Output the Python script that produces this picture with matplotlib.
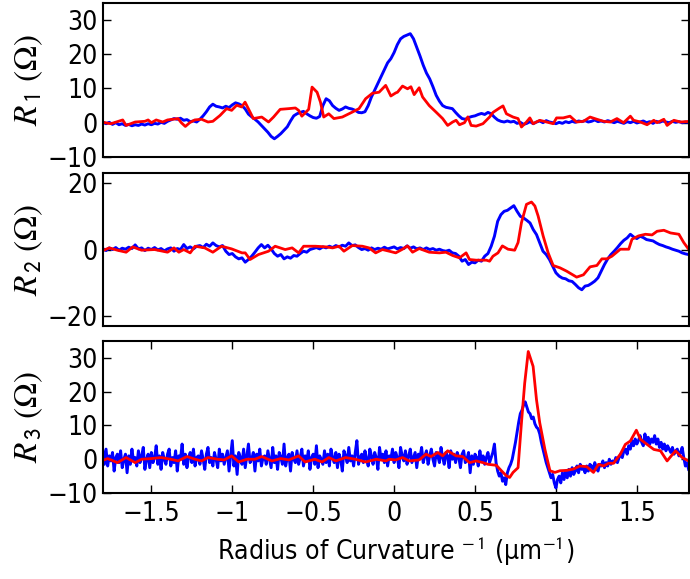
import numpy as np
import matplotlib
matplotlib.use("Agg")
import matplotlib.pyplot as plt

# ---------------- data ----------------
x_start = -1.80
step_coarse = 0.02
step_fine = 0.01

# Panel 1 (R1) blue, sampled every 0.02 from -1.80
r1_blue = [
    0.2, -0.3, 0.1, -0.5, 0.0, -0.6, -0.3, -0.8, -0.5, -0.9,
    -0.6, -0.8, -0.4, -0.7, -0.3, -0.6, -0.2, -0.4, 0.1, -0.2,
    0.4, 0.8, 1.2, 1.0, 1.3, 0.7, 0.9, 0.3, 0.5, 0.2,
    1.0, 2.0, 3.2, 4.6, 5.4, 4.8, 4.6, 4.3, 4.8, 4.4,
    5.2, 5.8, 5.5, 5.0, 4.0, 2.5, 1.7, 1.0, 0.2, -0.8,
    -1.8, -2.8, -4.0, -4.7, -4.0, -3.2, -2.2, -1.2, 0.5, 2.0,
    2.6, 3.0, 3.3, 2.6, 2.0, 1.5, 1.3, 1.8, 5.0, 7.0,
    6.4, 5.0, 4.2, 3.6, 4.0, 4.6, 4.2, 4.0, 3.6, 3.0,
    2.9, 3.2, 5.0, 7.5, 9.5, 11.5, 13.5, 15.5, 17.5, 18.7,
    20.5, 22.8, 24.5, 25.2, 25.6, 26.0, 24.5, 22.0, 19.5, 16.8,
    14.5, 12.8, 10.5, 8.0, 6.3, 5.0, 4.5, 4.3, 4.1, 3.0,
    2.0, 1.2, 1.0, 1.5, 1.8, 2.0, 2.4, 2.7, 2.4, 3.0,
    2.6, 1.6, 0.8, 0.4, 0.2, 0.5, 0.2, 0.4, -0.2, 0.1,
    -0.5, -0.2, 0.3, -0.3, 0.2, 0.5, 0.0, 0.6, 0.2, 0.0,
    -0.3, 0.1, -0.2, 0.3, 0.0, 0.4, 0.1, 0.5, 0.3, 0.6,
    0.2, 0.4, 0.8, 0.3, 0.5, 0.2, 0.6, 0.3, 0.0, 0.4,
    0.1, -0.2, 0.3, 0.0, 0.4, -0.1, 0.2, 0.5, 0.0, 0.3,
    -0.2, 0.4, 0.1, 0.5, 0.2, 0.0, 0.4, 0.1, 0.3, 0.0,
    0.2, 0.1,
]

# Panel 1 red (non-uniform sample positions)
r1_red_x = [
    -1.81, -1.75, -1.677, -1.656, -1.60, -1.54, -1.52, -1.50, -1.47, -1.43,
    -1.40, -1.335, -1.315, -1.29, -1.263, -1.232, -1.19, -1.15, -1.12, -1.076,
    -1.035, -1.004, -0.973, -0.942, -0.921, -0.89, -0.87, -0.818, -0.776, -0.745,
    -0.704, -0.652, -0.61, -0.59, -0.57, -0.528, -0.507, -0.476, -0.455, -0.435,
    -0.404, -0.372, -0.32, -0.258, -0.217, -0.176, -0.134, -0.093, -0.052, -0.02,
    0.01, 0.021, 0.052, 0.083, 0.104, 0.124, 0.155, 0.176, 0.217, 0.259,
    0.30, 0.331, 0.362, 0.383, 0.404, 0.435, 0.456, 0.476, 0.507, 0.549,
    0.59, 0.611, 0.652, 0.673, 0.694, 0.735, 0.766, 0.787, 0.818, 0.839,
    0.859, 0.90, 0.942, 0.983, 1.004, 1.045, 1.087, 1.108, 1.128, 1.17,
    1.211, 1.253, 1.294, 1.336, 1.377, 1.418, 1.46, 1.48, 1.522, 1.563,
    1.605, 1.625, 1.667, 1.687, 1.729, 1.77, 1.832,
]
r1_red = [
    0.2, -0.3, 0.8, -0.8, 0.2, 0.4, 0.8, 0.0, 0.8, 0.2,
    0.8, 1.2, 0.0, -1.1, 0.0, 0.8, 1.0, 0.2, 0.4, 2.1,
    4.1, 3.6, 5.1, 4.6, 6.0, 3.1, 1.2, 1.65, 0.2, 1.65,
    3.9, 4.1, 4.3, 3.6, 1.9, 3.9, 10.4, 8.9, 6.0, 1.65,
    2.6, 1.2, 1.65, 3.1, 4.1, 7.0, 8.6, 8.9, 10.9, 7.8,
    8.7, 8.9, 10.7, 9.9, 10.5, 8.2, 10.2, 7.5, 5.0, 3.1,
    1.2, -0.8, 0.2, 0.7, -0.6, 0.0, 1.7, -0.8, -1.0, -0.3,
    1.65, 3.0, 4.3, 4.9, 2.6, 1.65, 1.2, -1.26, 0.2, 1.4,
    -0.3, 0.7, 0.2, -0.3, 1.4, 1.4, 1.9, 1.0, 0.2, 0.4,
    1.65, 1.0, 0.4, 0.2, 1.2, 0.0, 1.9, 0.7, 0.2, -0.6,
    0.7, 0.0, 1.0, -0.8, 0.7, 0.2, 0.4,
]

# Panel 2 (R2) blue, sampled every 0.02 from -1.80
r2_blue = [
    0.3, -0.3, 0.5, 0.0, 0.6, -0.2, 0.4, 0.1, 0.7, 0.3,
    1.4, 0.2, 0.5, -0.3, 0.4, 0.0, 0.6, -0.1, 0.3, -0.4,
    0.2, 0.5, -0.5, 0.3, 0.0, 1.5, 0.3, 0.8, 0.2, 1.0,
    1.2, 0.6, 1.6, 1.0, 2.0, 1.2, 0.8, 1.2, -0.5, -1.5,
    -1.2, -2.2, -2.8, -2.5, -3.8, -3.0, -2.0, -0.8, 0.5, 1.5,
    0.5, 1.3, 0.2, -1.2, -2.0, -1.5, -2.8, -2.2, -2.6, -1.8,
    -2.0, -1.2, -0.5, -0.8, 0.0, 0.3, 0.6, 0.2, 0.8, 0.5,
    1.0, 0.6, 1.2, 0.8, 1.3, 1.0, 2.0, 1.2, 1.4, 0.6,
    0.0, 0.3, -0.2, 0.5, 0.0, 0.4, 0.1, 0.7, 0.2, 0.5,
    0.8, 0.2, 0.6, 0.3, 1.1, 0.4, 0.8, 0.2, 0.5, 0.0,
    0.5, 0.0, 0.3, -0.2, 0.1, -0.3, -0.5, -0.2, -1.0, -1.2,
    -2.0, -3.5, -3.0, -4.5, -3.8, -4.0, -3.2, -3.5, -2.0, -1.2,
    1.0, 4.0, 8.5, 10.5, 11.5, 11.8, 12.5, 13.2, 11.5, 10.0,
    9.5, 8.8, 8.0, 6.0, 4.5, 2.0, -0.5, -1.5, -3.0, -5.0,
    -7.0, -8.0, -8.6, -8.8, -9.4, -9.6, -10.5, -11.5, -12.1, -11.0,
    -10.8, -10.2, -9.5, -8.5, -6.5, -4.5, -2.8, -1.5, -0.5, 0.6,
    1.8, 2.8, 3.5, 4.6, 3.8, 3.3, 4.0, 3.6, 3.0, 2.8,
    2.6, 2.0, 1.5, 1.2, 0.8, 0.5, 0.1, -0.2, -0.5, -1.0,
    -1.3, -1.5,
]

# Panel 2 red
r2_red_x = [
    -1.81, -1.76, -1.71, -1.656, -1.615, -1.56, -1.48, -1.40, -1.36, -1.33,
    -1.30, -1.26, -1.23, -1.17, -1.12, -1.066, -1.004, -0.94, -0.92, -0.89,
    -0.838, -0.776, -0.735, -0.673, -0.63, -0.59, -0.559, -0.486, -0.42, -0.38,
    -0.34, -0.31, -0.258, -0.196, -0.155, -0.114, -0.072, -0.03, 0.01, 0.052,
    0.083, 0.114, 0.155, 0.217, 0.28, 0.32, 0.362, 0.404, 0.445, 0.466,
    0.507, 0.57, 0.59, 0.611, 0.642, 0.669, 0.704, 0.745, 0.766, 0.787,
    0.818, 0.849, 0.87, 0.89, 0.921, 0.952, 0.983, 1.025, 1.066, 1.128,
    1.17, 1.211, 1.253, 1.284, 1.315, 1.346, 1.398, 1.45, 1.47, 1.51,
    1.553, 1.594, 1.625, 1.667, 1.708, 1.76, 1.79, 1.82,
]
r2_red = [
    -0.5, 0.5, -0.2, -0.8, 0.8, -0.2, 0.0, -0.8, 0.5, -0.8,
    0.0, -1.0, 1.0, 0.5, -0.8, 1.0, 0.2, -1.0, -1.0, -3.0,
    -1.5, -0.5, 1.0, 0.0, 0.5, -1.0, 1.0, 1.0, 0.8, 0.5,
    1.0, -0.5, 1.2, 1.0, 0.5, -1.0, 0.0, -0.5, -1.0, 0.1,
    1.1, -0.8, 0.3, -0.8, -1.0, -0.8, -1.8, -2.5, -1.0, -3.0,
    -3.2, -3.2, -3.5, -2.0, -1.0, 1.1, 0.1, -0.2, 2.1, 8.1,
    13.6, 14.3, 13.1, 10.1, 4.1, -1.0, -4.8, -5.5, -6.5, -8.3,
    -7.6, -5.2, -4.8, -2.8, -2.8, -2.0, 0.1, 0.1, 3.1, 4.1,
    4.6, 4.4, 5.5, 5.8, 5.0, 4.6, 2.1, 0.1,
]

# Panel 3 (R3) blue, sampled every 0.01 from -1.80
r3_blue = [
    2.5, -1.5, 3.0, -2.0, 1.0, -0.5, 2.0, -3.5, 0.5, 1.5, -1.0, 2.5, -2.5, 0.0, 1.5, -4.0, 1.0, -1.5, 3.0, -0.5,
    0.5, -2.0, 2.5, -1.0, 1.0, 3.5, -3.0, 0.0, 1.5, -2.5, 2.0, -1.0, 0.5, 4.0, -1.5, 1.0, -3.0, 2.0, 0.0, -1.5,
    1.5, 3.0, -2.0, 0.5, -1.0, 2.5, -3.5, 1.0, 0.0, 4.5, -1.5, 1.5, -2.5, 0.5, 2.0, -1.0, 3.0, -2.0, 0.5, 1.0,
    -1.5, 2.5, 0.0, -3.0, 1.5, 3.5, -1.0, 0.5, -2.0, 2.0, 0.0, -2.5, 3.0, -0.5, 1.5, -1.5, 0.5, 2.5, -3.5, 1.0,
    5.5, -2.0, 1.0, -4.5, 2.0, 0.5, -1.5, 3.0, -2.5, 1.0, 4.5, -1.0, 0.0, 2.0, -3.5, 1.5, -0.5, 3.0, -2.0, 0.5,
    1.0, -1.5, 2.5, 0.0, -2.5, 3.5, -1.0, 1.0, -3.0, 2.0, 0.5, -1.5, 4.5, -2.0, 0.5, 1.5, -3.5, 2.0, 0.0, -1.0,
    2.5, -1.5, 0.5, 3.0, -2.0, 1.0, -0.5, 2.5, -3.0, 0.5, 1.5, -1.5, 4.0, -2.5, 1.0, 0.0, -1.5, 2.5, -1.0, 1.5,
    -2.0, 3.0, 0.5, -1.0, 2.0, -2.5, 1.5, 0.0, -3.5, 2.5, 1.0, -1.0, 3.5, -0.5, 1.0, -2.0, 2.0, 5.5, -1.5, 0.5,
    1.5, -1.0, 2.5, 0.0, -2.0, 3.0, 1.0, -1.5, 2.0, 0.5, -3.0, 3.5, 0.0, 1.5, -1.0, 2.5, -2.0, 1.0, 0.0, 3.0,
    -1.0, 2.0, 0.5, -2.5, 3.5, 1.0, -0.5, 2.5, -1.5, 1.0, 3.0, -1.0, 0.5, 2.0, -2.5, 1.5, 0.5, 3.5, -1.0, 1.0,
    2.5, -1.5, 1.0, 3.0, 0.0, -2.0, 2.0, 1.0, -1.0, 3.5, 0.5, -1.5, 2.0, 1.0, -2.5, 2.5, 0.0, 1.5, -1.0, 2.0,
    0.5, -2.5, 1.5, 2.5, -1.0, 0.0, 2.0, -4.0, 1.0, -1.5, 1.5, 0.5, -2.0, 2.5, -0.5, 1.0, -1.5, 0.5, 2.0, -1.0,
    0.5, 2.0, 4.5, -1.0, -3.5, -5.0, -4.0, -6.5, -5.5, -7.5, -4.0, -2.5, -1.5, 0.0, 2.5, 5.0, 8.0, 11.0, 13.5, 14.5,
    16.0, 17.0, 15.5, 14.0, 13.5, 12.0, 12.5, 10.5, 9.5, 9.0, 7.5, 5.0, 3.0, 1.0, -1.0, -2.5, -4.0, -5.5, -4.5, -7.0,
    -8.5, -6.0, -5.0, -7.0, -4.0, -6.0, -3.5, -5.5, -3.0, -5.0, -2.5, -4.5, -3.5, -2.0, -4.0, -1.5, -3.0, -2.5, -4.0, -2.0,
    -3.5, -1.5, -2.0, -3.0, -1.0, -2.5, -3.5, -1.5, -2.0, -0.5, -2.5, -1.0, -2.0, 0.0, -1.5, -0.5, -1.0, 0.5, -1.0, 0.5,
    1.5, 0.5, 2.5, 3.0, 1.5, 4.0, 3.0, 5.5, 4.0, 6.0, 4.5, 5.5, 7.0, 5.0, 4.0, 7.5, 5.0, 6.5, 4.5, 6.0,
    5.0, 7.0, 4.5, 6.0, 3.5, 5.0, 3.0, 4.5, 2.5, 4.0, 3.0, 2.0, 3.5, 1.5, 2.5, 3.0, 1.0, 2.0, 3.5, 0.5,
    -2.0, -1.0, -3.0,
]

# Panel 3 red
r3_red_x = [
    -1.81, -1.77, -1.71, -1.656, -1.60, -1.56, -1.50, -1.44, -1.38, -1.335,
    -1.28, -1.23, -1.19, -1.15, -1.09, -1.05, -1.004, -0.96, -0.91, -0.86,
    -0.818, -0.755, -0.70, -0.65, -0.59, -0.55, -0.49, -0.445, -0.403, -0.36,
    -0.30, -0.24, -0.176, -0.11, -0.05, -0.031, 0.01, 0.052, 0.093, 0.155,
    0.197, 0.228, 0.27, 0.30, 0.331, 0.383, 0.424, 0.466, 0.507, 0.549,
    0.58, 0.632, 0.663, 0.694, 0.714, 0.735, 0.766, 0.787, 0.807, 0.829,
    0.859, 0.88, 0.90, 0.932, 0.963, 0.994, 1.025, 1.066, 1.108, 1.149,
    1.19, 1.232, 1.263, 1.294, 1.325, 1.356, 1.398, 1.429, 1.46, 1.497,
    1.522, 1.563, 1.605, 1.646, 1.687, 1.739, 1.78, 1.832,
]
r3_red = [
    -0.5, 0.2, -1.0, 0.5, -1.0, 0.0, 0.2, 0.5, 0.0, -0.5,
    0.8, 0.0, -0.5, 0.5, 0.0, -0.2, 1.0, -0.8, 0.0, 0.0,
    0.8, -0.5, 0.2, -0.2, 1.0, -0.8, 0.0, -0.8, 0.5, -0.5,
    0.5, 0.0, -0.8, 0.0, -0.5, 0.0, -0.2, 0.5, -0.5, -0.2,
    1.5, 0.8, 2.0, 1.0, 2.5, 1.0, 0.8, -1.0, -0.5, -1.0,
    -1.5, -1.8, -3.4, -4.9, -5.4, -3.9, -2.5, 10.8, 22.5, 31.9,
    27.5, 17.6, 10.8, 2.9, -3.4, -3.9, -3.4, -3.3, -2.9, -2.0,
    -2.2, -3.9, -1.5, -2.0, -1.2, -1.2, 1.5, 4.4, 5.4, 8.6,
    5.9, 4.4, 2.9, 2.5, -0.5, 2.5, 0.5, -0.8,
]

x_ticks = [-1.5, -1, -0.5, 0, 0.5, 1, 1.5]
x_ticklabels = ["\u22121.5", "\u22121", "\u22120.5", "0", "0.5", "1", "1.5"]
panel_yticks = [[-10, 0, 10, 20, 30], [-20, 0, 20], [-10, 0, 10, 20, 30]]
panel_ylims = [(-10, 35), (-23, 23), (-10, 35)]
panel_ylabels = [r"$R_{\,\mathsf{1}}\ (\Omega)$", r"$R_{\,\mathsf{2}}\ (\Omega)$",
                 r"$R_{\,\mathsf{3}}\ (\Omega)$"]
xlabel = "Radius of Curvature$^{\\mathsf{\\ -1}}$ (\u03bcm$^{\\mathsf{-1}}$)"

# ---------------- style ----------------
plt.rcParams["font.family"] = ["DejaVu Sans"]
plt.rcParams["font.stretch"] = "condensed"
plt.rcParams["mathtext.fontset"] = "stix"

fig = plt.figure(figsize=(6.9, 5.79), dpi=100)
left, width = 0.149, 0.849
panels = [(0.729, 0.266), (0.437, 0.264), (0.1485, 0.2625)]

blue_sets = [
    (x_start + step_coarse * np.arange(len(r1_blue)), r1_blue),
    (x_start + step_coarse * np.arange(len(r2_blue)), r2_blue),
    (x_start + step_fine * np.arange(len(r3_blue)), r3_blue),
]
red_sets = [(r1_red_x, r1_red), (r2_red_x, r2_red), (r3_red_x, r3_red)]

for i, (bot, h) in enumerate(panels):
    ax = fig.add_axes([left, bot, width, h])
    bx, by = blue_sets[i]
    rx, ry = red_sets[i]
    ax.plot(bx, by, color=(0, 0, 1), lw=2.1)
    ax.plot(rx, ry, color=(1, 0, 0), lw=2.0)
    ax.set_xlim(-1.8, 1.82)
    ax.set_ylim(*panel_ylims[i])
    ax.set_yticks(panel_yticks[i])
    ax.set_yticklabels([str(t).replace("-", "\u2212") for t in panel_yticks[i]])
    ax.set_ylabel(panel_ylabels[i], fontsize=24)
    for s in ax.spines.values():
        s.set_linewidth(1.5)
    ax.tick_params(axis="y", direction="in", length=6, width=1, right=True,
                   labelsize=19, pad=4)
    ax.set_xticks(x_ticks)
    if i < 2:
        ax.tick_params(axis="x", length=0, labelbottom=False)
    else:
        ax.set_xticklabels(x_ticklabels)
        ax.tick_params(axis="x", direction="in", length=6, width=1, top=True,
                       labelsize=19, pad=6)
        ax.set_xlabel(xlabel, fontsize=19, labelpad=6)
    ax.yaxis.set_label_coords(-0.098, 0.5)

fig.savefig("out.png", dpi=100)
